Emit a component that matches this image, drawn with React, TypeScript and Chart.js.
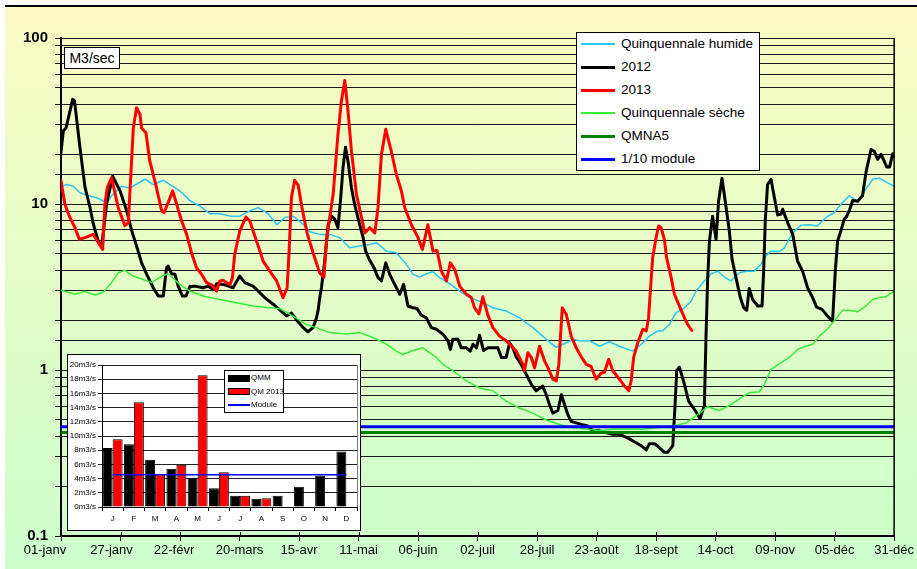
import React, { useEffect, useRef } from 'react';
import { Chart, registerables } from 'chart.js';

Chart.register(...registerables);

const FONT = '"Liberation Sans", Arial, Helvetica, sans-serif';

// ---------- Main chart data (day of year, m3/s) ----------
const xTickLabels = [
  '01-janv', '27-janv', '22-févr', '20-mars', '15-avr', '11-mai', '06-juin', '02-juil',
  '28-juil', '23-août', '18-sept', '14-oct', '09-nov', '05-déc', '31-déc',
];
const TICK_STEP_DAYS = 26;
const LAST_DAY = 364;

const serieHumide: [number, number][] = [
  [0, 12.8], [2.5, 13.1], [5.4, 12.8], [8.3, 11.7], [11.9, 11.2], [15.6, 10.9], [20, 10.2],
  [22.1, 11.2], [26.5, 12.8], [30.1, 12.5], [36.7, 14.1], [40.3, 13.1], [44.7, 13.9],
  [47.6, 13.1], [51.9, 12], [56.3, 10.5], [60.7, 9.7], [65, 8.74], [69.4, 8.74], [73.8, 8.45],
  [78.1, 8.45], [82.5, 9.1], [86.1, 9.5], [90.5, 8.74], [94.4, 7.5], [97.8, 8.3], [101.4, 8.45],
  [105.1, 7.7], [108.7, 6.8], [113, 6.56], [117.4, 6.56], [121.8, 6.27], [126.1, 5.45],
  [130.5, 5.58], [134.9, 5.71], [137.8, 5.85], [142.2, 5.2], [146.5, 5.09], [150.9, 4.33],
  [153.8, 3.77], [156.7, 3.63], [159.6, 3.8], [162.5, 3.91], [165.4, 3.6], [169.8, 3.31],
  [174.2, 2.99], [178.5, 2.73], [182.9, 2.6], [188.7, 2.37], [194.5, 2.27], [200.3, 2.06],
  [206.2, 1.8], [212, 1.53], [216.4, 1.37], [220.8, 1.46], [223.6, 1.53], [226.5, 1.5],
  [230.9, 1.5], [235.3, 1.39], [239.6, 1.48], [244, 1.39], [249.8, 1.3], [253.5, 1.43],
  [257.1, 1.6], [260.7, 1.72], [262.9, 1.72], [265.8, 1.88], [268.7, 2.21], [272.4, 2.37],
  [275.3, 2.6], [277.5, 2.99], [281.1, 3.44], [284, 3.8], [286.9, 3.94], [289.8, 3.63],
  [292.7, 3.44], [296.4, 3.85], [299.3, 3.94], [302.9, 3.94], [305.8, 4.33], [308, 4.86],
  [310.2, 5.2], [313.8, 5.17], [316, 5.43], [319.6, 6.7], [323.3, 7.46], [326.9, 7.5],
  [330.5, 7.37], [334.2, 8.3], [337.8, 8.86], [340.7, 9.95], [344.4, 11.2], [348, 10.4],
  [351.7, 12.3], [354.6, 14.1], [357.5, 14.3], [361.2, 13.4], [364, 12.8],
];

const serie2012: [number, number][] = [
  [0, 20.4], [1, 27.5], [2.2, 28.7], [5.1, 42.7], [5.9, 41.8], [8.3, 21.8], [10.5, 12.6],
  [12.7, 9.5], [14.1, 7.6], [16.3, 5.95], [17.8, 5.6], [19.9, 10], [22.6, 14.7], [25.8, 12],
  [28.7, 9.1], [30.9, 6.9], [33.7, 5.2], [35.2, 4.42], [37.4, 3.78], [40.3, 3.13], [42.5, 2.79],
  [44.7, 2.79], [46.1, 4.13], [46.8, 4.23], [48.3, 3.8], [49.8, 3.77], [51.2, 3.2], [53.1, 2.79],
  [54.6, 2.79], [56.3, 3.18], [58.5, 3.2], [62.1, 3.13], [64.3, 3.2], [66.5, 3.06], [68, 3.31],
  [71.6, 3.26], [75.2, 3.13], [78.1, 3.68], [80.3, 3.36], [83.9, 3.2], [86.1, 2.99], [89, 2.73],
  [92.7, 2.49], [95.6, 2.3], [98.5, 2.12], [100.7, 2.2], [103.6, 1.95], [105.8, 1.8],
  [107.9, 1.7], [110.1, 1.8], [111.6, 2.06], [112.3, 2.27], [113, 2.7], [113.8, 3.13],
  [115.2, 4.53], [116.7, 7.5], [118.2, 8.45], [119.6, 8.1], [121, 7.2], [122.1, 10.4],
  [123.2, 16.5], [124.3, 22], [125.4, 18.1], [126.9, 12.5], [128.3, 9.95], [130.5, 7.5],
  [132, 6.27], [133.1, 5.2], [134.9, 4.58], [137.1, 4.04], [138.5, 3.6], [140, 3.44],
  [141.9, 4.42], [143.6, 3.77], [145.8, 3.28], [148, 2.86], [149.7, 3.28], [151.6, 2.43],
  [153.8, 2.37], [155.5, 2.35], [157.4, 2.14], [159.6, 2.06], [161.8, 1.8], [164, 1.76],
  [166.9, 1.64], [169.1, 1.5], [170.1, 1.33], [171.2, 1.53], [173.4, 1.53], [174.9, 1.36],
  [177.1, 1.36], [178.8, 1.3], [180, 1.43], [181.5, 1.36], [182.9, 1.62], [184.6, 1.31],
  [186.5, 1.36], [188.7, 1.36], [190.9, 1.36], [192.4, 1.19], [194.5, 1.19], [196, 1.46],
  [197.4, 1.36], [198.9, 1.2], [201.1, 1.08], [203.3, 0.94], [205.5, 0.82], [207.6, 0.75],
  [210.5, 0.8], [212, 0.71], [213.4, 0.62], [214.9, 0.55], [217.1, 0.57], [218.6, 0.71],
  [220, 0.62], [221.4, 0.54], [222.9, 0.49], [225.1, 0.48], [227.3, 0.47], [230.2, 0.46],
  [232.3, 0.43], [235.3, 0.43], [238.2, 0.42], [241.1, 0.41], [244, 0.41], [247.6, 0.39],
  [250.5, 0.37], [253.5, 0.35], [255.7, 0.33], [257.1, 0.36], [259.3, 0.36], [261.5, 0.34],
  [263.6, 0.32], [265.1, 0.32], [267.3, 0.35], [268.3, 0.62], [269, 0.99], [270.2, 1.04],
  [272.4, 0.82], [274.2, 0.65], [276.7, 0.58], [279.2, 0.51], [281.1, 0.61], [281.8, 1.57],
  [282.5, 3.44], [283.3, 5.98], [284.7, 8.45], [286.2, 6.13], [287.3, 10.4], [288.8, 14.3],
  [290.6, 9.5], [292, 6.87], [293.2, 4.64], [294.9, 3.6], [296.8, 2.73], [298.3, 2.37],
  [299.6, 2.29], [300.7, 3.1], [302.2, 2.66], [304.4, 2.43], [306.3, 2.43], [307, 3.94],
  [307.7, 7.9], [308.7, 13.1], [310.2, 14.1], [311.7, 10.9], [313.1, 8.6], [314.6, 8.7],
  [315.3, 9.3], [317.5, 7.7], [319.7, 6.56], [321.8, 4.53], [324, 3.94], [326.2, 3.13],
  [328.4, 2.73], [330.1, 2.39], [332.5, 2.32], [334.9, 2.11], [337.1, 1.97], [338.3, 3.94],
  [339.3, 5.98], [340.8, 6.93], [342.2, 8.1], [343, 8.3], [344.4, 9.1], [345.9, 10.5],
  [348.1, 10.4], [350.2, 11.2], [351.7, 15.5], [353.9, 21.3], [355.3, 20.8], [356.8, 18.6],
  [358.3, 19.9], [359.3, 18.6], [360.8, 16.7], [362, 16.7], [363.4, 20.1], [364, 19.5],
];

const serie2013: [number, number][] = [
  [0, 13.8], [1.7, 9.95], [3.9, 8.3], [6.1, 7.2], [8, 6.13], [10.5, 6.27], [14.1, 6.56],
  [18.2, 5.33], [19.2, 10], [20.2, 12.5], [22.1, 14.4], [25, 9.5], [27.9, 7.4], [29.4, 7.7],
  [31.6, 28.7], [33, 38], [34.5, 34.7], [35.2, 28.7], [37.1, 26.9], [38.8, 18.1], [41, 13.8],
  [44, 9.1], [45, 8.86], [46.8, 10.2], [48.8, 12], [50.5, 10], [52.7, 7.9], [54.9, 6.56],
  [57, 5.09], [59.2, 4.13], [61.4, 3.77], [63.6, 3.36], [65.8, 3.26], [68, 2.99], [69.4, 3.44],
  [70.8, 3.47], [73.8, 3.26], [74.9, 3.6], [75.9, 4.97], [78.1, 6.87], [80.8, 8.35],
  [82.5, 7.9], [84.7, 6.4], [86.9, 5.2], [88.3, 4.53], [91.2, 3.94], [94.2, 3.44], [97, 2.73],
  [98.8, 3.13], [99.6, 4.97], [100.7, 11], [102.1, 13.9], [103.6, 13], [105.3, 9.5],
  [107.5, 6.7], [110.1, 5.1], [113, 3.85], [114.9, 3.63], [116, 5.98], [117.4, 8.3],
  [118.9, 11.4], [121, 26.3], [122.5, 41.6], [124, 55.5], [125.4, 36.3], [126.9, 20.8],
  [129.1, 11.4], [131.3, 8.3], [132.7, 6.7], [134.9, 7.2], [137.1, 6.7], [138.5, 9.5],
  [140, 19.9], [141.9, 28.2], [144.3, 20.8], [146.5, 15.1], [148.7, 12], [150.2, 9.5],
  [153.1, 7.5], [156, 6.27], [157.9, 5.33], [160.3, 7.5], [162.5, 5.2], [164.3, 5.25],
  [166.2, 3.94], [168.4, 3.44], [170.1, 4.42], [172, 4.04], [174.2, 3.2], [177.1, 2.86],
  [179.3, 2.73], [180.7, 2.37], [182.6, 2.18], [184.3, 2.76], [186.5, 2.14], [188.7, 1.8],
  [191.6, 1.6], [194.5, 1.5], [196, 1.43], [198.9, 1.3], [201.8, 1.08], [202.5, 0.99],
  [204, 1.27], [205.5, 1.19], [206.9, 1.03], [209.1, 1.39], [211.3, 1.13], [213.4, 0.99],
  [214.9, 0.88], [216.4, 0.86], [217.5, 1.08], [219, 2.37], [220.8, 2.16], [222.9, 1.6],
  [225.1, 1.36], [227.3, 1.2], [229.5, 1.08], [231.6, 1.05], [233.8, 0.88], [236, 0.96],
  [237.4, 0.97], [239.3, 1.16], [241.1, 0.99], [244, 0.88], [246.2, 0.8], [248.1, 0.75],
  [249.1, 0.86], [250.2, 1.19], [252, 1.46], [254.2, 1.76], [255.7, 1.72], [256.7, 2.06],
  [257.5, 2.99], [258.5, 4.74], [260, 6.27], [261.1, 7.37], [262.2, 7.2], [263.6, 6.13],
  [264.6, 4.74], [266.6, 3.6], [268, 2.86], [270.2, 2.43], [272.4, 2.06], [273.8, 1.88],
  [275.6, 1.73],
];

const serieSeche: [number, number][] = [
  [0, 3.02], [6.1, 2.86], [10.5, 2.97], [14.8, 2.83], [18.5, 2.94], [22.1, 3.36], [25, 3.85],
  [27.9, 3.98], [31.6, 3.68], [36, 3.51], [39.6, 3.36], [44, 3.68], [46.8, 3.8], [51.9, 3.28],
  [56.3, 2.99], [62.1, 2.79], [69.4, 2.66], [76.7, 2.54], [84, 2.43], [91.2, 2.37],
  [95.6, 2.34], [101.4, 2.11], [107.2, 1.88], [111.6, 1.8], [117.4, 1.68], [124.7, 1.65],
  [130.5, 1.68], [136.3, 1.57], [142.2, 1.43], [146.5, 1.3], [149.4, 1.24], [153.8, 1.31],
  [158.1, 1.36], [164, 1.19], [166.9, 1.08], [171.2, 0.99], [177.1, 0.86], [182.9, 0.78],
  [188.7, 0.75], [194.5, 0.65], [200.3, 0.59], [206.2, 0.55], [212, 0.5], [217.8, 0.47],
  [223.6, 0.45], [230.2, 0.44], [235.3, 0.43], [241.1, 0.44], [248.4, 0.44], [254.2, 0.44],
  [261.5, 0.45], [267.3, 0.46], [273.1, 0.48], [277.5, 0.53], [282.5, 0.6], [287.6, 0.57],
  [292, 0.61], [296.4, 0.67], [300.7, 0.73], [305.1, 0.74], [307.3, 0.82], [310.2, 1.01],
  [313.8, 1.09], [318.2, 1.19], [321.8, 1.33], [325.5, 1.39], [328.4, 1.43], [331.3, 1.6],
  [334.2, 1.73], [337.8, 1.97], [341.5, 2.29], [344.4, 2.29], [348, 2.24], [351.7, 2.43],
  [354.6, 2.66], [357.5, 2.73], [360.4, 2.76], [364, 2.99],
];

const qmna5 = 0.42;
const dixiemeModule = 0.455;

// ---------- Inset chart data ----------
const mois = ['J', 'F', 'M', 'A', 'M', 'J', 'J', 'A', 'S', 'O', 'N', 'D'];
const qmm = [8.3, 8.85, 6.65, 5.4, 4.1, 2.65, 1.6, 1.15, 1.6, 2.85, 4.4, 7.8];
const qm2013 = [9.55, 14.75, 4.65, 5.95, 18.55, 4.9, 1.6, 1.25, null, null, null, null];
const moduleAnnuel = 4.55;

const seriesDefs = [
  { label: 'Quinquennale humide', points: serieHumide, color: '#2CC6F5', width: 1.5 },
  { label: '2012', points: serie2012, color: '#000000', width: 3 },
  { label: '2013', points: serie2013, color: '#FF0000', width: 3 },
  { label: 'Quinquennale sèche', points: serieSeche, color: '#36EE36', width: 1.5 },
  { label: 'QMNA5', points: [[0, qmna5], [LAST_DAY, qmna5]] as [number, number][], color: '#008000', width: 3 },
  { label: '1/10 module', points: [[0, dixiemeModule], [LAST_DAY, dixiemeModule]] as [number, number][], color: '#0000FF', width: 3 },
];

const insetLegend = [
  { label: 'QMM', kind: 'bar', color: '#000000' },
  { label: 'QM 2013', kind: 'bar', color: '#FF0000' },
  { label: 'Module', kind: 'line', color: '#0000FF' },
];

const W = 917;
const H = 569;

export default function App() {
  const mainRef = useRef<HTMLCanvasElement>(null);
  const insetRef = useRef<HTMLCanvasElement>(null);

  useEffect(() => {
    // the first date labels sit a little left of their tick, as in the original sheet
    const labelShift = [-16, -9, -6];

    const bgPlugin = {
      id: 'bgFrame',
      beforeDraw(chart: any) {
        const c = chart.ctx;
        c.save();
        const g = c.createLinearGradient(0, 6, 0, H);
        g.addColorStop(0, '#FAFAC2');
        g.addColorStop(1, '#CCFFCC');
        c.fillStyle = g;
        c.fillRect(5, 6, W - 5, H - 6);
        c.strokeStyle = '#000';
        c.lineWidth = 2;
        c.beginPath();
        c.moveTo(5, 6);
        c.lineTo(W, 6);
        c.stroke();
        c.restore();
      },
      afterDraw(chart: any) {
        const { ctx: c, chartArea: a } = chart;
        c.save();
        c.strokeStyle = '#000';
        c.lineWidth = 1.5;
        c.beginPath();
        c.moveTo(a.right, a.top);
        c.lineTo(a.right, a.bottom);
        c.stroke();
        const xs = chart.scales.x;
        c.lineWidth = 1;
        xs.ticks.forEach((t: any) => {
          const px = Math.round(xs.getPixelForValue(t.value)) + 0.5;
          c.beginPath();
          c.moveTo(px, a.bottom - 4);
          c.lineTo(px, a.bottom);
          c.stroke();
        });
        // date labels
        c.fillStyle = '#000';
        c.font = `13px ${FONT}`;
        c.textAlign = 'center';
        c.textBaseline = 'top';
        xTickLabels.forEach((lab, i) => {
          const px = xs.getPixelForValue(i * TICK_STEP_DAYS) + (labelShift[i] ?? 0);
          c.fillText(lab, px, a.bottom + 8);
        });
        c.restore();
      },
    };

    const main = new Chart(mainRef.current as HTMLCanvasElement, {
      type: 'line',
      data: {
        datasets: seriesDefs.map((s, i) => ({
          label: s.label,
          data: s.points.map(([x, y]) => ({ x, y })),
          borderColor: s.color,
          backgroundColor: s.color,
          borderWidth: s.width,
          pointRadius: 0,
          tension: 0,
          fill: false,
          borderJoinStyle: 'round' as const,
          borderCapStyle: 'round' as const,
          order: seriesDefs.length - i,
        })),
      },
      options: {
        responsive: false,
        animation: false,
        events: [],
        layout: { padding: { left: 0, right: 22, top: 38, bottom: 0 } },
        plugins: { legend: { display: false }, tooltip: { enabled: false } },
        scales: {
          x: {
            type: 'linear',
            min: 0,
            max: LAST_DAY,
            afterFit: (s: any) => { s.height = 33; },
            ticks: {
              stepSize: TICK_STEP_DAYS,
              autoSkip: false,
              maxRotation: 0,
              minRotation: 0,
              padding: 3,
              color: 'rgba(0,0,0,0)',
              font: { family: FONT, size: 13 },
              callback: (v: any) => xTickLabels[Math.round(Number(v) / TICK_STEP_DAYS)] ?? '',
            },
            grid: { drawOnChartArea: false, drawTicks: true, tickLength: 5, color: '#000' },
            border: { color: '#000', width: 2 },
          },
          y: {
            type: 'logarithmic',
            min: 0.1,
            max: 100,
            afterFit: (s: any) => { s.width = 61; },
            ticks: {
              autoSkip: false,
              padding: 7,
              color: '#000',
              font: { family: FONT, size: 15, weight: 'bold' },
              callback: (value: any) => {
                const v = Number(value);
                const e = Math.log10(v);
                if (Math.abs(e - Math.round(e)) > 1e-6) return '';
                return v < 1 ? v.toFixed(1) : String(Math.round(v));
              },
            },
            grid: { color: '#1a1a1a', lineWidth: 1, tickLength: 6 },
            border: { color: '#000', width: 2 },
          },
        },
      },
      plugins: [bgPlugin],
    } as any);

    const insetPlugin = {
      id: 'insetFrame',
      beforeDraw(chart: any) {
        const c = chart.ctx;
        c.save();
        c.fillStyle = '#fff';
        c.fillRect(0, 0, chart.width, chart.height);
        c.restore();
      },
      afterDraw(chart: any) {
        const { ctx: c, chartArea: a } = chart;
        c.save();
        c.strokeStyle = '#808080';
        c.lineWidth = 1;
        c.beginPath();
        c.moveTo(Math.round(a.right) + 0.5, a.top);
        c.lineTo(Math.round(a.right) + 0.5, a.bottom);
        c.stroke();
        c.restore();
      },
    };

    const inset = new Chart(insetRef.current as HTMLCanvasElement, {
      type: 'bar',
      data: {
        labels: mois,
        datasets: [
          {
            type: 'line',
            label: 'Module',
            data: mois.map(() => moduleAnnuel),
            borderColor: '#0000FF',
            borderWidth: 1.5,
            pointRadius: 0,
            order: 0,
          },
          {
            label: 'QMM',
            data: qmm,
            backgroundColor: '#000000',
            borderColor: '#000000',
            borderWidth: 1,
            categoryPercentage: 0.94,
            barPercentage: 1,
            order: 1,
          },
          {
            label: 'QM 2013',
            data: qm2013,
            backgroundColor: '#FF0000',
            borderColor: '#000000',
            borderWidth: 1,
            categoryPercentage: 0.94,
            barPercentage: 1,
            order: 1,
          },
        ],
      },
      options: {
        responsive: false,
        animation: false,
        events: [],
        layout: { padding: { left: 0, right: 3, top: 10, bottom: 0 } },
        plugins: { legend: { display: false }, tooltip: { enabled: false } },
        scales: {
          x: {
            afterFit: (s: any) => { s.height = 23; },
            ticks: { color: '#000', font: { family: FONT, size: 8 }, padding: 3, maxRotation: 0 },
            grid: { drawOnChartArea: false, tickLength: 4, color: '#000', offset: true },
            border: { color: '#000', width: 1 },
          },
          y: {
            min: 0,
            max: 20,
            afterFit: (s: any) => { s.width = 34; },
            ticks: {
              stepSize: 2,
              color: '#000',
              padding: 2,
              font: { family: FONT, size: 8 },
              callback: (v: any) => `${v}m3/s`,
            },
            grid: { color: '#222', tickLength: 4 },
            border: { color: '#000', width: 1 },
          },
        },
      },
      plugins: [insetPlugin],
    } as any);

    return () => {
      main.destroy();
      inset.destroy();
    };
  }, []);

  return (
    <div style={{ position: 'absolute', left: 0, top: 0, width: W, height: H, background: '#fff', fontFamily: FONT }}>
      <canvas ref={mainRef} width={W} height={H} style={{ position: 'absolute', left: 0, top: 0 }} />

      <div
        style={{
          position: 'absolute', left: 64, top: 47, width: 56, height: 22, boxSizing: 'border-box',
          border: '1px solid #000', background: '#fff', fontSize: 14, lineHeight: '20px',
          textAlign: 'center', color: '#000',
        }}
      >
        M3/sec
      </div>

      <div
        style={{
          position: 'absolute', left: 576, top: 32, width: 184, height: 139, boxSizing: 'border-box',
          border: '1px solid #000', background: '#fff',
        }}
      >
        {seriesDefs.map((s, i) => (
          <div key={s.label} style={{ position: 'absolute', left: 0, top: 3 + i * 23, height: 16, width: 180 }}>
            <div
              style={{
                position: 'absolute', left: 4, top: 8 - Math.ceil(s.width) / 2, width: 34,
                height: s.width < 2 ? 2 : 3, background: s.color,
              }}
            />
            <div style={{ position: 'absolute', left: 44, top: 0, fontSize: 13.5, lineHeight: '16px', color: '#000', whiteSpace: 'nowrap' }}>
              {s.label}
            </div>
          </div>
        ))}
      </div>

      <div
        style={{
          position: 'absolute', left: 67, top: 354, width: 294, height: 177, boxSizing: 'border-box',
          border: '1px solid #000', background: '#fff',
        }}
      >
        <canvas ref={insetRef} width={292} height={175} style={{ display: 'block' }} />
      </div>

      <div
        style={{
          position: 'absolute', left: 224, top: 370, width: 60, height: 43, boxSizing: 'border-box',
          border: '1px solid #000', background: '#fff',
        }}
      >
        {insetLegend.map((it, i) => (
          <div key={it.label} style={{ position: 'absolute', left: 0, top: 2 + i * 13.5, height: 10, width: 58 }}>
            {it.kind === 'bar' ? (
              <div
                style={{
                  position: 'absolute', left: 3, top: 1.5, width: 22, height: 7, boxSizing: 'border-box',
                  background: it.color, border: '1px solid #000',
                }}
              />
            ) : (
              <div style={{ position: 'absolute', left: 3, top: 4, width: 22, height: 2, background: it.color }} />
            )}
            <div style={{ position: 'absolute', left: 26, top: 0, fontSize: 8, lineHeight: '10px', color: '#000', whiteSpace: 'nowrap' }}>
              {it.label}
            </div>
          </div>
        ))}
      </div>
    </div>
  );
}
